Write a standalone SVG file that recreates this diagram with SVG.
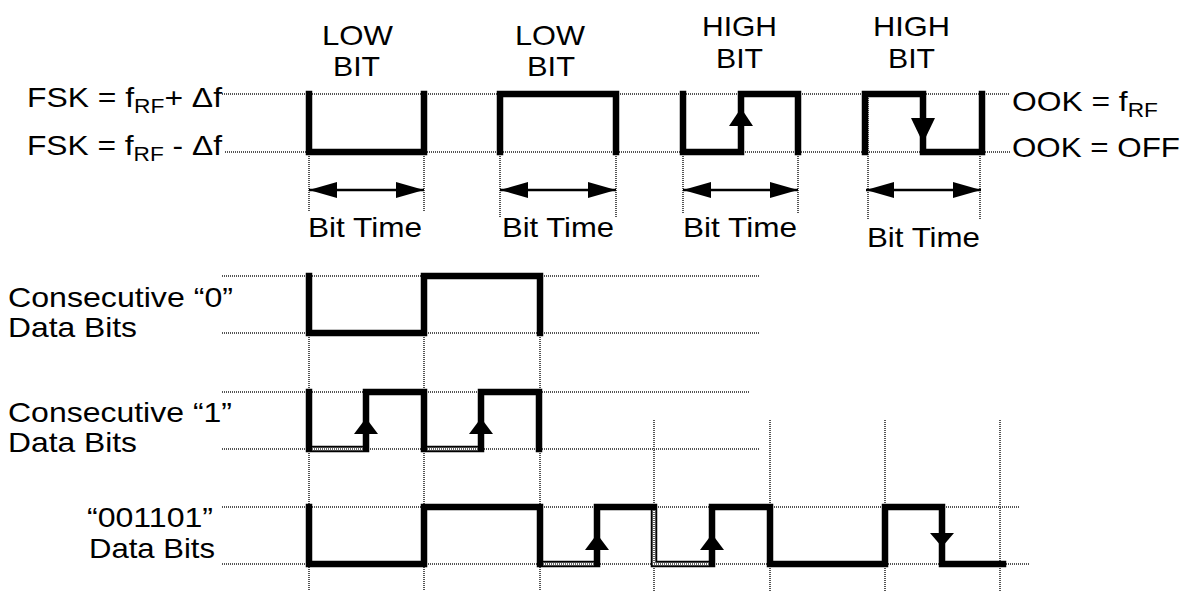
<svg xmlns="http://www.w3.org/2000/svg" width="1189" height="591" viewBox="0 0 1189 591">
<style>
text{font-family:"Liberation Sans",Arial,sans-serif;font-size:28px;fill:#000}
.sub{font-size:20px}
.grid{stroke:#555;stroke-width:2;stroke-dasharray:1 1;fill:none}
.wave{stroke:#000;stroke-width:6.5;fill:none;stroke-linecap:square;stroke-linejoin:miter}
.hol1{stroke:#fff;stroke-width:2.6;fill:none}
.hol2{stroke:#666;stroke-width:2.6;stroke-dasharray:1 1;fill:none}
.dim{stroke:#000;stroke-width:2.5;fill:none}
.ah{fill:#000}
</style>
<defs>
<marker id="dimhead" viewBox="0 0 28 16" refX="28" refY="8" markerWidth="28" markerHeight="16" markerUnits="userSpaceOnUse" orient="auto-start-reverse">
<path d="M0,0 L28,8 L0,16 Z" fill="#000"/>
</marker>
</defs>
<rect width="1189" height="591" fill="#fff"/>

<g id="connectors">
<path class="grid" d="M222,94 H1010 M225,152 H1010"/>
<path class="grid" d="M309,152 V212 M424,152 V212 M500,152 V218 M616,152 V218 M683,152 V214 M798,152 V214 M868,94 V220 M980,94 V220"/>
<path class="grid" d="M222,276 H760 M222,333 H760 M222,392 H750 M222,449 H760 M222,507 H1020 M222,564 H1030"/>
<path class="grid" d="M309,333 V591 M424,333 V591 M540,333 V591 M654,420 V591 M770,420 V591 M885,420 V591 M1000,420 V591"/>
<line class="dim" x1="309" y1="190" x2="424" y2="190" marker-start="url(#dimhead)" marker-end="url(#dimhead)"/>
<line class="dim" x1="500" y1="190" x2="616" y2="190" marker-start="url(#dimhead)" marker-end="url(#dimhead)"/>
<line class="dim" x1="683" y1="190" x2="798" y2="190" marker-start="url(#dimhead)" marker-end="url(#dimhead)"/>
<line class="dim" x1="866" y1="190" x2="981" y2="190" marker-start="url(#dimhead)" marker-end="url(#dimhead)"/>
</g>

<g id="low-bit-1">
<path class="wave" d="M309,94 V152 H424 V94"/>
<text x="322" y="45" textLength="71" lengthAdjust="spacingAndGlyphs">LOW</text>
<text x="333" y="76" textLength="47" lengthAdjust="spacingAndGlyphs">BIT</text>
<text x="308" y="237" textLength="114" lengthAdjust="spacingAndGlyphs">Bit Time</text>
</g>

<g id="low-bit-2">
<path class="wave" d="M500,152 V94 H616 V152"/>
<text x="515" y="45" textLength="70" lengthAdjust="spacingAndGlyphs">LOW</text>
<text x="527" y="76" textLength="48" lengthAdjust="spacingAndGlyphs">BIT</text>
<text x="502" y="237" textLength="112" lengthAdjust="spacingAndGlyphs">Bit Time</text>
</g>

<g id="high-bit-1">
<path class="wave" d="M683,94 V152 H741 V94 H798 V152"/>
<polygon class="ah" points="741,108 729,126 753,126"/>
<text x="702" y="36" textLength="75" lengthAdjust="spacingAndGlyphs">HIGH</text>
<text x="716" y="68" textLength="47" lengthAdjust="spacingAndGlyphs">BIT</text>
<text x="683" y="237" textLength="114" lengthAdjust="spacingAndGlyphs">Bit Time</text>
</g>

<g id="high-bit-2">
<path class="wave" d="M865,152 V94 H923 V152 H982 V94"/>
<polygon class="ah" points="923,143 911,118 935,118"/>
<text x="873" y="36" textLength="77" lengthAdjust="spacingAndGlyphs">HIGH</text>
<text x="888" y="68" textLength="47" lengthAdjust="spacingAndGlyphs">BIT</text>
<text x="867" y="247" textLength="113" lengthAdjust="spacingAndGlyphs">Bit Time</text>
</g>

<g id="level-labels">
<text x="27" y="107" textLength="195" lengthAdjust="spacingAndGlyphs">FSK = f<tspan class="sub" dy="6">RF</tspan><tspan dy="-6">+ Δf</tspan></text>
<text x="27" y="155" textLength="195" lengthAdjust="spacingAndGlyphs">FSK = f<tspan class="sub" dy="6">RF</tspan><tspan dy="-6"> - Δf</tspan></text>
<text x="1012" y="111" textLength="146" lengthAdjust="spacingAndGlyphs">OOK = f<tspan class="sub" dy="6">RF</tspan></text>
<text x="1012" y="157" textLength="168" lengthAdjust="spacingAndGlyphs">OOK = OFF</text>
</g>

<g id="row-consecutive-0">
<text x="8" y="307" font-size="30" textLength="225" lengthAdjust="spacingAndGlyphs">Consecutive “0”</text>
<text x="8" y="337" font-size="30" textLength="129" lengthAdjust="spacingAndGlyphs">Data Bits</text>
<path class="wave" d="M309,276 V333 H424 V276 H540 V333"/>
</g>

<g id="row-consecutive-1">
<text x="8" y="422" font-size="30" textLength="224" lengthAdjust="spacingAndGlyphs">Consecutive “1”</text>
<text x="8" y="452" font-size="30" textLength="129" lengthAdjust="spacingAndGlyphs">Data Bits</text>
<path class="wave" d="M309,392 V449 H366 V392 H424 V449 H481 V392 H539 V449"/>
<path class="hol1" d="M312,449 H363 M427,449 H478"/>
<path class="hol2" d="M312,449 H363 M427,449 H478"/>
<polygon class="ah" points="366,418 354,434 378,434"/>
<polygon class="ah" points="481,418 469,434 493,434"/>
</g>

<g id="row-001101">
<text x="87" y="527" font-size="30" textLength="126" lengthAdjust="spacingAndGlyphs">“001101”</text>
<text x="89" y="558" font-size="30" textLength="126" lengthAdjust="spacingAndGlyphs">Data Bits</text>
<path class="wave" d="M309,507 V564 H424 V507 H540 V564 H597 V507 H654 V564 H712 V507 H770 V564 H885 V507 H942 V564 H1003"/>
<path class="hol1" d="M543,564 H594 M654,510 V564 H709"/>
<path class="hol2" d="M543,564 H594 M654,510 V564 H709"/>
<polygon class="ah" points="597,534 585,550 609,550"/>
<polygon class="ah" points="712,534 700,550 724,550"/>
<polygon class="ah" points="942,547 930,533 954,533"/>
</g>
</svg>
